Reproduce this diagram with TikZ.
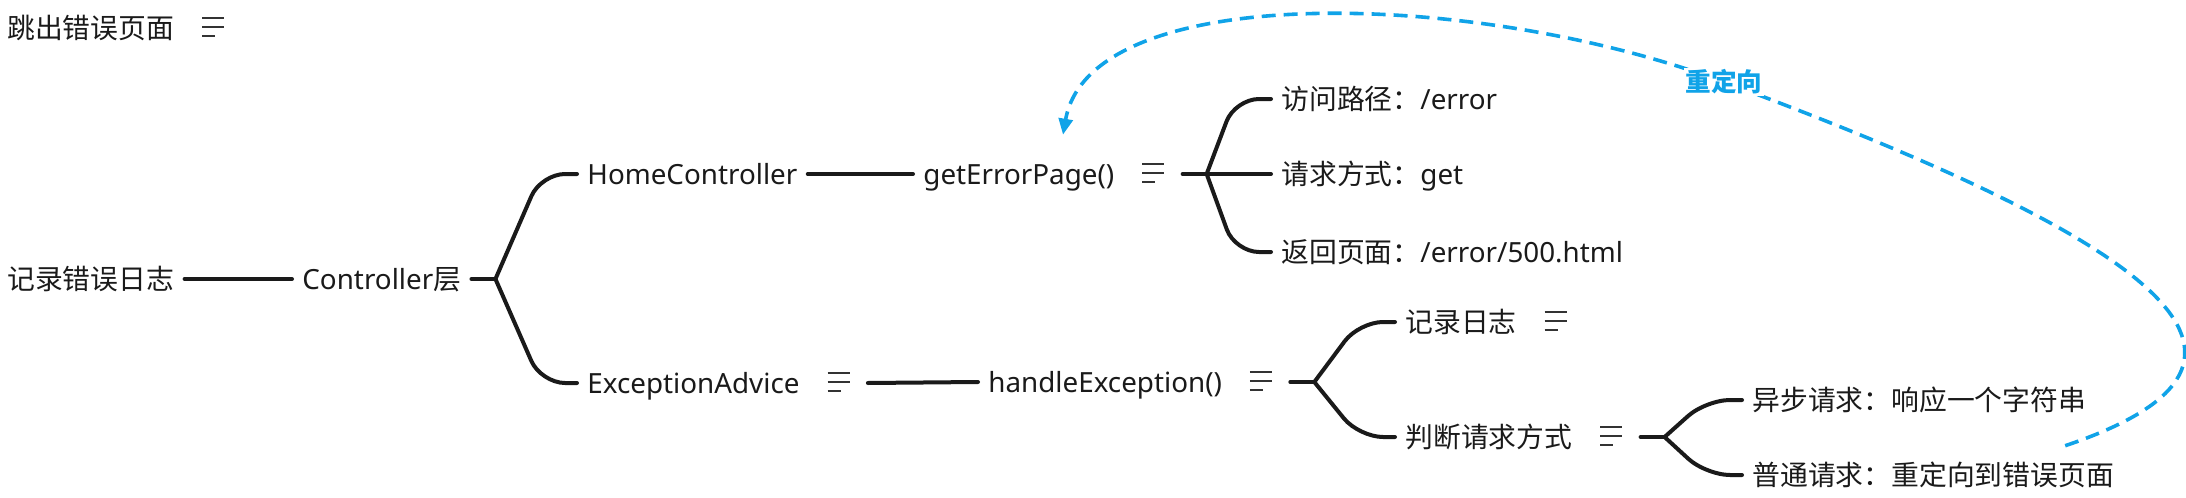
\documentclass[tikz,border=0pt]{standalone}
\usepackage{fontspec}
\setmainfont{Noto Sans}
\newfontfamily\cjk{Noto Sans CJK SC}
\usetikzlibrary{arrows.meta}
\definecolor{ink}{HTML}{1A1A1A}
\definecolor{iconc}{HTML}{333333}
\definecolor{redir}{HTML}{10A3E8}
% little "notes" mark after a topic
\newcommand{\noteicon}{\kern14pt\textcolor{iconc}{\rlap{\rule[9.75pt]{11pt}{1pt}}\rlap{\rule[5.25pt]{11pt}{1pt}}\rule[0.75pt]{6.5pt}{1pt}}\kern8.5pt\relax}

\begin{document}
\begin{tikzpicture}[x=0.5pt, y=-0.5pt, font=\fontsize{13.9}{16}\selectfont,
  topic/.style={anchor=west, inner xsep=5pt, inner ysep=2pt, text height=12.2pt, text depth=1.7pt, text=ink},
  link/.style={draw=ink, line width=2pt, line cap=round, rounded corners=12pt},
  redirect/.style={draw=redir, line width=1.8pt, dash pattern=on 7pt off 4pt, -{Triangle[length=8pt,width=7pt]}},
  redirlabel/.style={fill=white, text=redir, font=\cjk\bfseries\fontsize{12.8}{14}\selectfont, inner sep=1pt}]
  \useasboundingbox (0,0) rectangle (2186,498);

  \node[topic] (jump) at (-3,28) {\cjk 跳出错误页面\noteicon};

  \node[topic] (root) at (-3,279) {\cjk 记录错误日志};
  \node[topic] (ctrl) at (292,279) {Controller{\cjk 层}};
  \node[topic] (home) at (577,174) {HomeController};
  \node[topic] (ea) at (577,383) {ExceptionAdvice\noteicon};
  \node[topic] (gep) at (913,174) {getErrorPage()\noteicon};
  \node[topic] (he) at (978,382) {handleException()\noteicon};
  \node[topic] (visit) at (1271,99) {{\cjk 访问路径：}/error};
  \node[topic] (method) at (1271,174) {{\cjk 请求方式：}get};
  \node[topic] (page) at (1271,252) {{\cjk 返回页面：}/error/500.html};
  \node[topic] (log) at (1395,322) {\cjk 记录日志\noteicon};
  \node[topic] (judge) at (1395,437) {\cjk 判断请求方式\noteicon};
  \node[topic] (async) at (1742,400) {\cjk 异步请求：响应一个字符串};
  \node[topic] (normal) at (1742,475) {\cjk 普通请求：重定向到错误页面};

  \coordinate (b1) at ([xshift=12pt]ctrl.east);
  \coordinate (b2) at ([xshift=12pt]gep.east);
  \coordinate (b3) at ([xshift=12pt]he.east);
  \coordinate (b4) at ([xshift=12pt]judge.east);

  \draw[link] (root.east) -- (ctrl.west);
  \draw[link] (ctrl.east) -- (b1);
  \draw[link] (home.east) -- (gep.west);
  \draw[link] (gep.east) -- (b2);
  \draw[link] (ea.east) -- (he.west);
  \draw[link] (he.east) -- (b3);
  \draw[link] (judge.east) -- (b4);
  \foreach \p/\kid in {b1/home, b1/ea, b2/visit, b2/method, b2/page, b3/log, b3/judge, b4/async, b4/normal}
    \draw[link] (\p) -- ([xshift=-18pt]\kid.west) -- (\kid.west);

  % redirect back to the error page
  \draw[redirect] ([xshift=-29.5pt,yshift=5.5pt]normal.north east)
    .. controls (2320,360) and (2150,240) .. (1724,82) node[redirlabel] (relbl) {重定向}
    .. controls (1474,-11) and (1090,-20) .. ([xshift=75pt,yshift=10.5pt]gep.north west);
\end{tikzpicture}
\end{document}
